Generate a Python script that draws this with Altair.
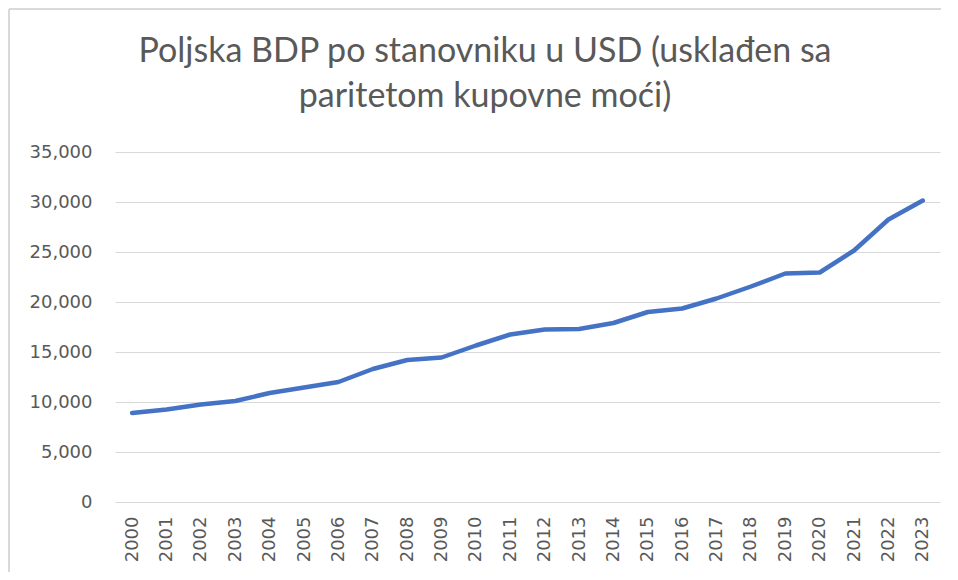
import altair as alt
import pandas as pd

years = [str(y) for y in range(2000, 2024)]
gdp = [8900, 9250, 9750, 10100, 10900, 11450, 12000, 13300, 14200, 14450, 15650,
       16750, 17250, 17300, 17900, 19000, 19350, 20350, 21550, 22850, 22950,
       25150, 28250, 30150]
title_lines = ["Poljska BDP po stanovniku u USD (usklađen sa", "paritetom kupovne moći)"]

df = pd.DataFrame({"year": years, "gdp": gdp})

GRID = "#D9D9D9"
TXT = "#595959"
FONT = "DejaVu Sans"

line = alt.Chart(df).mark_line(color="#4472C4", strokeWidth=4.5, strokeCap="round",
                               strokeJoin="round").encode(
    x=alt.X("year:N", sort=years, title=None,
            scale=alt.Scale(paddingInner=0, paddingOuter=0.5),
            axis=alt.Axis(labelAngle=-90, labelFontSize=18, labelColor=TXT,
                          labelFont=FONT, labelPadding=14, ticks=False,
                          domain=True, domainColor=GRID, domainWidth=1,
                          labelBaseline="middle", labelAlign="right")),
    y=alt.Y("gdp:Q", title=None,
            scale=alt.Scale(domain=[0, 35000], nice=False),
            axis=alt.Axis(values=list(range(0, 35001, 5000)), format=",d",
                          labelFontSize=18, labelColor=TXT, labelFont=FONT,
                          labelPadding=23, ticks=False, domain=False,
                          grid=True, gridColor=GRID, gridWidth=1)),
)

border_left = alt.Chart(df).mark_rule(color=GRID, strokeWidth=1.5).encode(
    x=alt.value(-106), y=alt.value(-143), y2=alt.value(420))
border_top = alt.Chart(df).mark_rule(color=GRID, strokeWidth=1.5).encode(
    x=alt.value(-106), x2=alt.value(826), y=alt.value(-143))

t1 = alt.Chart(pd.DataFrame({"t": [title_lines[0]]})).mark_text(
    font="Lato", fontSize=34, color=TXT, align="center", baseline="alphabetic").encode(
    text="t:N", x=alt.value(370), y=alt.value(-90))
t2 = alt.Chart(pd.DataFrame({"t": [title_lines[1]]})).mark_text(
    font="Lato", fontSize=34, color=TXT, align="center", baseline="alphabetic").encode(
    text="t:N", x=alt.value(370), y=alt.value(-45))

chart = alt.layer(border_left, border_top, line, t1, t2).properties(
    width=825, height=350,
    autosize=alt.AutoSizeParams(type="none"),
    padding={"left": 107, "top": 144, "right": 10, "bottom": 70},
).configure_view(stroke=None)

chart.save("out.html", embed_options={"renderer": "svg", "actions": False})
